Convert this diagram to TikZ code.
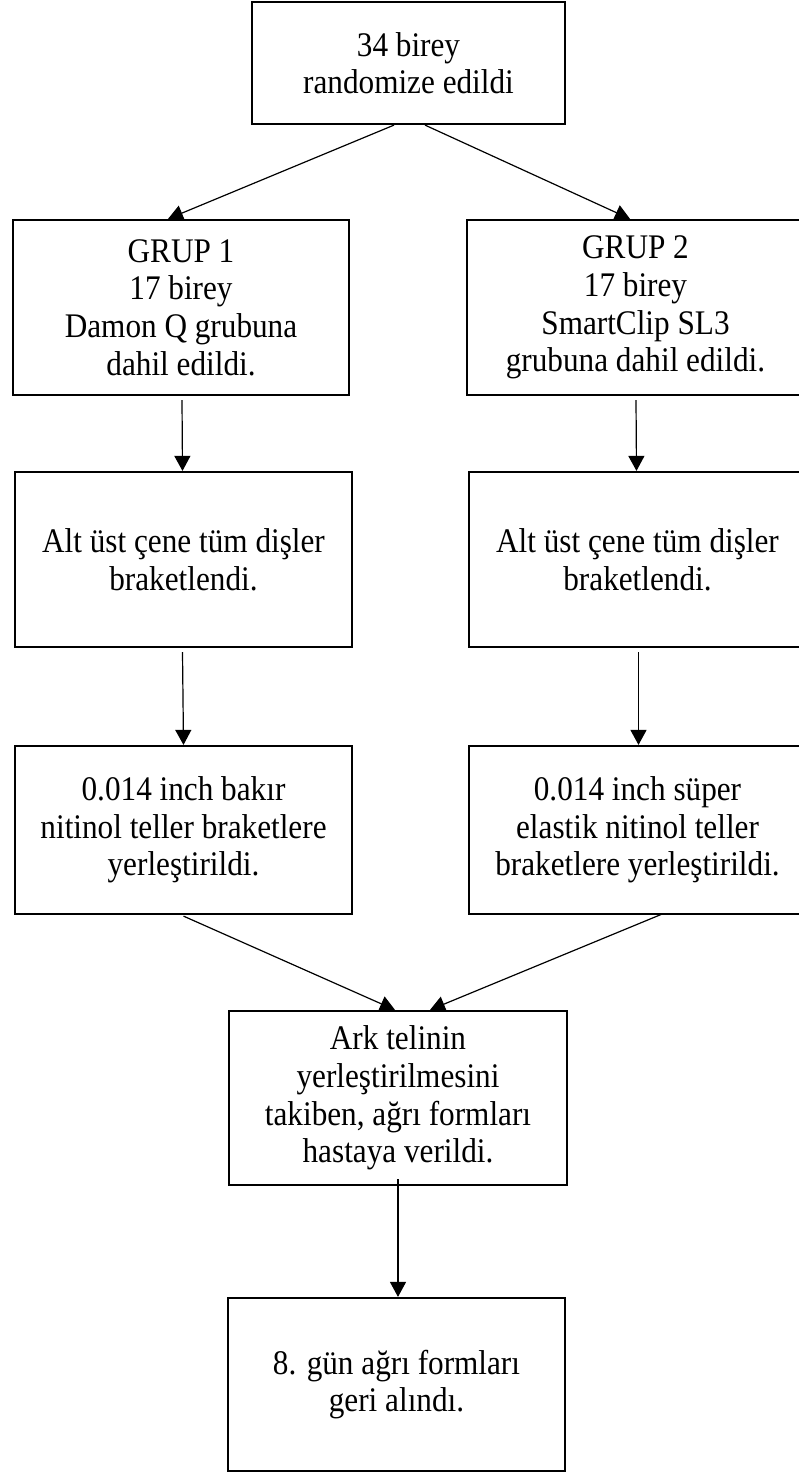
\documentclass[tikz,border=0pt]{standalone}
\usepackage{fontspec}
\setmainfont{Liberation Serif}[FakeStretch=0.905]
\usetikzlibrary{arrows.meta,calc}
\begin{document}
\begin{tikzpicture}[x=1pt,y=-1pt,
  box/.style={draw, line width=2.2pt, inner sep=0pt, align=center,
    font=\fontsize{34.5}{37.6}\selectfont, minimum width=337pt, minimum height=175pt},
  conn/.style={line width=1.2pt, -{Triangle[width=16pt,length=15pt]}}]
\useasboundingbox (0,0) rectangle (798,1472);
\fill[white] (0,0) rectangle (798,1472);

\node[box, minimum width=313pt, minimum height=122pt] (top) at (408.5,63) {34 birey\\randomize edildi};
\node[box, minimum width=336pt] (g1) at (181,307.5) {GRUP 1\\17 birey\\Damon Q grubuna\\dahil edildi.};
\node[box] (g2) at (635.5,307.5) {GRUP 2\\17 birey\\SmartClip SL3\\grubuna dahil edildi.};
\node[box] (a1) at (183.5,559.5) {Alt üst çene tüm dişler\\braketlendi.};
\node[box] (a2) at (637.5,559.5) {Alt üst çene tüm dişler\\braketlendi.};
\node[box, minimum height=168pt] (t1) at (183.5,830) {0.014 inch bakır\\nitinol teller braketlere\\yerleştirildi.};
\node[box, minimum height=168pt] (t2) at (637.5,830) {0.014 inch süper\\elastik nitinol teller\\braketlere yerleştirildi.};
\node[box, minimum width=338pt, minimum height=174pt] (ark) at (398,1098) {Ark telinin\\yerleştirilmesini\\takiben, ağrı formları\\hastaya verildi.};
\node[box, minimum height=173pt] (g8) at (396.5,1384.5) {8. gün ağrı formları\\geri alındı.};

\draw[conn] ([xshift=-14.5pt]top.south) -- ([xshift=-13pt]g1.north);
\draw[conn] ([xshift=16.5pt]top.south) -- ([xshift=-5.5pt]g2.north);
\draw[conn] ([xshift=1pt,yshift=-4pt]g1.south) -- ([xshift=-1pt]a1.north);
\draw[conn] ([xshift=0.5pt,yshift=-4pt]g2.south) -- ([xshift=-1pt]a2.north);
\draw[conn] ([xshift=-1pt,yshift=-4pt]a1.south) -- (a1.south |- t1.north);
\draw[conn] ([xshift=1pt,yshift=-4pt]a2.south) -- ([xshift=1pt]t2.north);
\draw[conn] ([yshift=-1pt]t1.south) -- ([xshift=-3pt]ark.north);
\draw[conn] ([xshift=24.5pt,yshift=1pt]t2.south) -- ([xshift=32pt]ark.north);
\draw[conn] ([yshift=7pt]ark.south) -- (ark.south |- g8.north);
\end{tikzpicture}
\end{document}
